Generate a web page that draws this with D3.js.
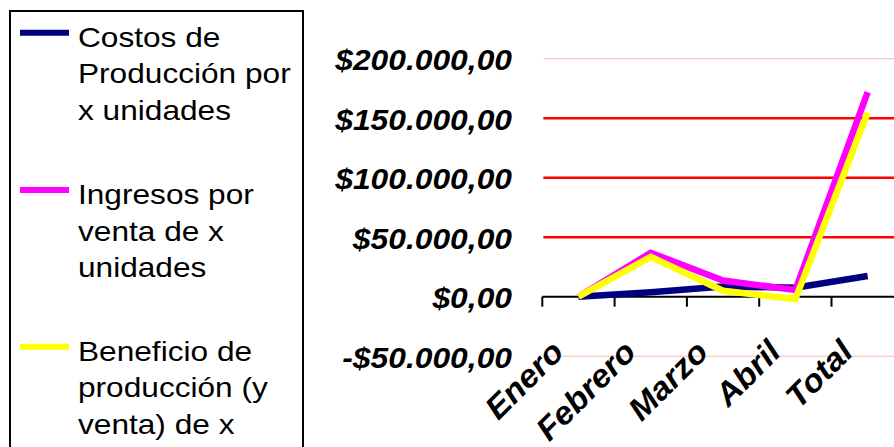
<!DOCTYPE html>
<html>
<head>
<meta charset="utf-8">
<script src="https://cdn.jsdelivr.net/npm/d3@7"></script>
<style>
  html, body { margin: 0; padding: 0; background: #fff; }
  svg { display: block; }
</style>
</head>
<body>
<svg id="chart" width="894" height="447"></svg>
<script>
// Months plus the total column
const categories = ["Enero", "Febrero", "Marzo", "Abril", "Total"];

// Series values in pesos
const costos    = [0, 3700, 8600, 7600, 17400];
const ingresos  = [0, 36900, 13600, 5600, 172000];
const beneficio = [0, 33500, 5000, -2000, 154600];

const yTicks = [-50000, 0, 50000, 100000, 150000, 200000];

const seriesNames = [
  ["Costos de", "Producción por", "x unidades"],
  ["Ingresos por", "venta de x", "unidades"],
  ["Beneficio de", "producción (y", "venta) de x"]
];
const seriesColors = ["#000080", "#ff00ff", "#ffff00"];
const seriesValues = [costos, ingresos, beneficio];

const svg = d3.select("#chart");

// Plot area
const plotLeft = 542.3, step = 72.3;
const x = d3.scaleBand()
  .domain(categories)
  .range([plotLeft, plotLeft + step * categories.length])
  .paddingInner(0).paddingOuter(0);
const y = d3.scaleLinear().domain([-50000, 200000]).range([356.2, 58.7]);

const fmt = v => {
  const s = d3.format(",.2f")(Math.abs(v)).replace(/,/g, "#").replace(".", ",").replace(/#/g, ".");
  return (v < 0 ? "-$" : "$") + s;
};

// Horizontal gridlines: the outer ones are pale
const grid = svg.append("g");
yTicks.filter(t => t !== 0).forEach(t => {
  const edge = (t === 200000 || t === -50000);
  grid.append("line")
    .attr("x1", plotLeft + 1).attr("x2", 894)
    .attr("y1", y(t)).attr("y2", y(t))
    .attr("stroke", edge ? "#f6b8c0" : "#ff0000")
    .attr("stroke-width", edge ? 1 : 2.4);
});

// Value axis labels
const yAxis = d3.axisLeft(y).tickValues(yTicks).tickFormat(fmt).tickSize(0).tickPadding(0);
const gy = svg.append("g").attr("transform", "translate(512,0)").call(yAxis);
gy.select(".domain").remove();
gy.selectAll("text")
  .attr("x", 0).attr("dy", "0.37em")
  .attr("transform", "scale(1.06,1)")
  .attr("font-family", "Liberation Sans, Arial, sans-serif")
  .attr("font-size", 30).attr("font-weight", "bold").attr("font-style", "italic")
  .attr("fill", "#000").attr("text-anchor", "end");

// Category axis along zero
const xAxis = d3.axisBottom(x).tickSize(0).tickFormat("");
const gx = svg.append("g").attr("transform", `translate(0,${y(0)})`).call(xAxis);
gx.select(".domain").remove();
gx.append("line").attr("x1", plotLeft).attr("x2", 894).attr("y1", 0).attr("y2", 0)
  .attr("stroke", "#000").attr("stroke-width", 2);
d3.range(categories.length + 1).forEach(i => {
  const tx = plotLeft + step * i;
  gx.append("line").attr("x1", tx).attr("x2", tx).attr("y1", 0).attr("y2", 10)
    .attr("stroke", "#000").attr("stroke-width", 2);
});

// Rotated category labels
svg.append("g").selectAll("text").data(categories).join("text")
  .attr("transform", d => `translate(${x(d) + x.bandwidth() / 2 - 13},354) rotate(-45) scale(1.05,1)`)
  .attr("text-anchor", "end")
  .attr("font-family", "Liberation Sans, Arial, sans-serif")
  .attr("font-size", 32).attr("font-weight", "bold").attr("font-style", "italic")
  .text(d => d);

// Series lines
const line = d3.line()
  .x((d, i) => x(categories[i]) + x.bandwidth() / 2)
  .y(d => y(d));
svg.append("g").selectAll("path").data(seriesValues).join("path")
  .attr("d", d => line(d))
  .attr("fill", "none")
  .attr("stroke", (d, i) => seriesColors[i])
  .attr("stroke-width", 6.5)
  .attr("stroke-linejoin", "miter")
  .attr("stroke-linecap", "butt");

// Legend
const legend = svg.append("g");
legend.append("rect")
  .attr("x", 10).attr("y", 11).attr("width", 293).attr("height", 460)
  .attr("fill", "#fff").attr("stroke", "#000").attr("stroke-width", 2);
const itemY = [32.7, 190, 346.7];
seriesNames.forEach((lines, i) => {
  legend.append("line")
    .attr("x1", 20).attr("x2", 69).attr("y1", itemY[i]).attr("y2", itemY[i])
    .attr("stroke", seriesColors[i]).attr("stroke-width", 6);
  lines.forEach((t, j) => {
    legend.append("text")
      .attr("transform", `translate(78,${itemY[i] + 14 + j * 36.5}) scale(1.13,1)`)
      .attr("font-family", "Liberation Sans, Arial, sans-serif")
      .attr("font-size", 28)
      .attr("fill", "#000")
      .text(t);
  });
});
</script>
</body>
</html>
